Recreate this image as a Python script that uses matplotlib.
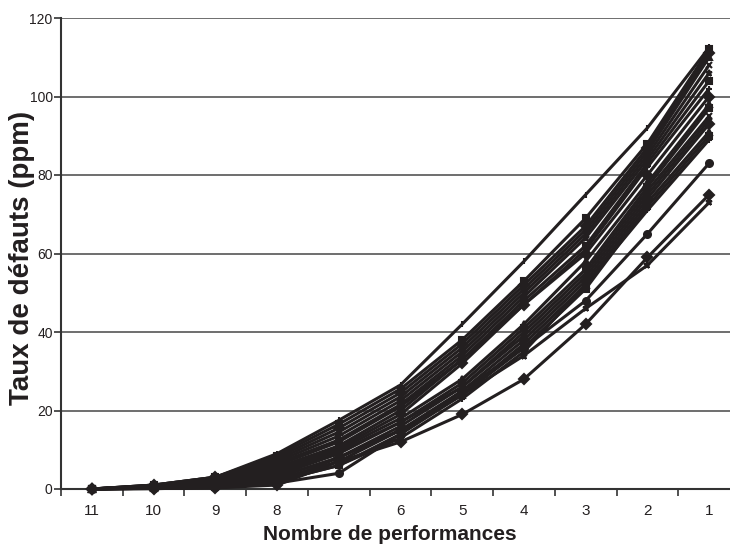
import matplotlib.pyplot as plt

# Categories (x axis) and tick labels
performances = ["11", "10", "9", "8", "7", "6", "5", "4", "3", "2", "1"]

# Defect rate series (ppm), one list per curve
s01 = [0, 1.0, 3.0, 9.0, 17.5, 26.5, 42, 58, 75, 92, 112.5]
s02 = [0, 1.0, 3.0, 8.5, 16.5, 25.5, 38, 53, 69, 88, 112]
s03 = [0, 1.0, 3.0, 8.0, 15.5, 24.5, 37, 52, 67, 87, 111]
s04 = [0, 0.9, 2.5, 7.5, 14.5, 23.5, 36, 51, 66, 86, 110]
s05 = [0, 0.8, 2.5, 7.0, 13.5, 22.5, 35, 50, 65, 85, 108]
s06 = [0, 0.8, 2.0, 6.5, 12.5, 21.5, 34, 49, 64, 84, 106]
s07 = [0, 0.7, 2.0, 6.0, 12.0, 21.0, 33, 48, 62, 83, 104]
s08 = [0, 0.6, 2.0, 5.5, 11.0, 20.0, 33, 47, 61, 82, 102]
s09 = [0, 0.5, 1.5, 5.0, 10.5, 19.0, 32, 47, 60, 80, 100]
s10 = [0, 0.5, 1.5, 4.5, 10.0, 18.0, 28, 42, 58, 78, 98]
s11 = [0, 0.5, 1.5, 4.0, 9.5, 17.0, 27, 41, 56, 77, 97]
s12 = [0, 0.4, 1.0, 3.5, 9.0, 17.0, 26, 40, 55, 76, 95]
s13 = [0, 0.4, 1.0, 3.0, 8.0, 16.0, 26, 39, 54, 75, 94]
s14 = [0, 0.3, 1.0, 3.0, 8.0, 15.0, 25, 38, 53, 74, 93]
s15 = [0, 0.3, 0.8, 2.5, 7.0, 15.0, 24, 37, 52, 73, 91]
s16 = [0, 0.2, 0.5, 2.0, 6.0, 14.0, 24, 36, 51, 72, 90]
s17 = [0, 0.2, 0.5, 2.0, 6.0, 13.0, 23, 35, 52, 71, 89]
s18 = [0, 0.2, 0.5, 1.5, 4.0, 14.0, 25, 36, 48, 65, 83]
s19 = [0, 0.1, 0.3, 1.0, 7.0, 12.0, 19, 28, 42, 59, 75]
s20 = [0, 0.1, 0.3, 1.5, 8.0, 15.0, 24, 34, 46, 57, 73]

series = [s01, s02, s03, s04, s05, s06, s07, s08, s09, s10,
          s11, s12, s13, s14, s15, s16, s17, s18, s19, s20]
markers = ["|", "s", "D", "^", "x", "*", "s", "+", "D", "^",
           "s", "x", "*", "D", "^", "s", "+", "o", "D", "*"]

plt.rcParams['font.family'] = ['Liberation Sans', 'DejaVu Sans']

fig = plt.figure(figsize=(7.3, 5.48), dpi=100)
ax = fig.add_axes([61 / 730, 59 / 548, 679 / 730, 471 / 548])

line_color = "#231f20"
x = list(range(len(performances)))
for values, m in zip(series, markers):
    ax.plot(x, values, color=line_color, linewidth=2.2, marker=m,
            markersize=5, markeredgewidth=1.5, markerfacecolor=line_color,
            markeredgecolor=line_color, clip_on=False, zorder=3)

# Axes limits and ticks
ax.set_xlim(-0.5, len(performances) - 0.5)
ax.set_ylim(0, 120)
ax.set_yticks(range(0, 121, 20))
ax.set_xticks(x)
ax.set_xticklabels(performances, fontsize=11, color="#231f20")
ax.set_xticks([i + 0.5 for i in range(-1, len(performances))], minor=True)
ax.tick_params(axis="x", which="major", length=0, pad=11)
ax.tick_params(axis="x", which="minor", length=5, width=1.2, color="#333333")
ax.tick_params(axis="y", length=5, width=1.2, color="#333333",
               labelsize=10, labelcolor="#231f20", pad=1)

# Horizontal gridlines
ax.yaxis.grid(True, color="#555555", linewidth=1.2)
ax.set_axisbelow(True)

for side in ["top", "right"]:
    ax.spines[side].set_visible(False)
for side in ["left", "bottom"]:
    ax.spines[side].set_color("#333333")
    ax.spines[side].set_linewidth(1.5)

# Axis titles placed like the original
fig.text(390 / 730, 1 - 535 / 548, "Nombre de performances", fontsize=15,
         fontweight="bold", color="#231f20", ha="center", va="center")
fig.text(22 / 730, 1 - 258 / 548, "Taux de défauts (ppm)", fontsize=20,
         fontweight="bold", color="#231f20", ha="center", va="center",
         rotation=90)

fig.savefig("out.png", dpi=100)
